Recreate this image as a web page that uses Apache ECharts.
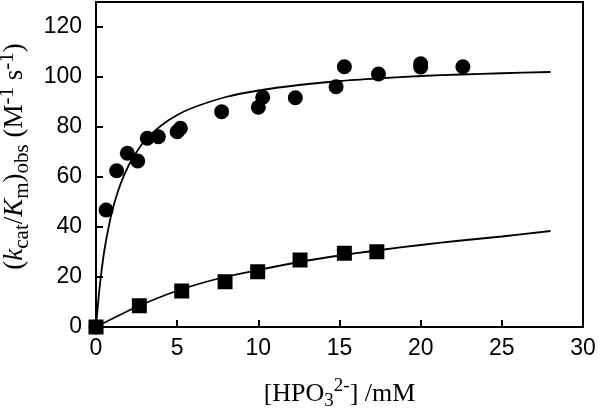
<!DOCTYPE html>
<html>
<head>
<meta charset="utf-8">
<script src="https://cdn.jsdelivr.net/npm/echarts@6/dist/echarts.min.js"></script>
<style>html,body{margin:0;padding:0;background:#fff}#c{width:600px;height:410px}</style>
</head>
<body>
<div id="c"></div>
<script>
// Measured data (circles and squares)
var circleX = [0, 0.62, 1.27, 1.93, 2.57, 3.16, 3.84, 5.0, 5.2, 7.74, 10.0, 10.27, 12.28, 14.79, 15.3, 17.4, 20.0, 20.0, 22.6];
var circleY = [0, 46.8, 62.5, 69.5, 66.4, 75.5, 76.1, 78.1, 79.5, 86.1, 87.9, 91.9, 91.7, 96.1, 104.1, 101.2, 105.3, 104.0, 104.1];
var squareX = [0, 2.67, 5.28, 7.95, 9.96, 12.57, 15.3, 17.3];
var squareY = [0, 8.5, 14.4, 18.1, 22.1, 26.8, 29.5, 30.1];
// Fitted curves
var fit1X = [0, 0.1, 0.25, 0.5, 0.75, 1, 1.5, 2, 2.5, 3, 4, 5, 6, 8, 10, 12.5, 15, 17.5, 20, 22.5, 25, 28];
var fit1Y = [0, 7.5, 17.5, 30, 39, 46.5, 57, 64.5, 70, 74.5, 80.5, 84.8, 87.8, 92, 94.6, 96.8, 98.4, 99.5, 100.4, 101, 101.5, 102];
var fit2X = [0, 2.5, 5, 7.5, 10, 12.5, 15, 17.5, 20, 22.5, 25, 28];
var fit2Y = [0, 8, 14.5, 19.3, 22.8, 26, 28.6, 30.8, 32.8, 34.6, 36.2, 38.4];
var xTicks = [0, 5, 10, 15, 20, 25, 30];
var yTicks = [0, 20, 40, 60, 80, 100, 120];

function pairs(xs, ys) { return xs.map(function (x, i) { return [x, ys[i]]; }); }

var chart = echarts.init(document.getElementById('c'), null, {renderer: 'canvas'});
var serif = '"Liberation Serif", "Times New Roman", serif';
var sans = '"Liberation Sans", Arial, sans-serif';
var xRich = {
  n: {fontFamily: serif, fontSize: 26, lineHeight: 34, color: '#000', verticalAlign: 'middle'},
  sub: {fontFamily: serif, fontSize: 19, lineHeight: 19, color: '#000', verticalAlign: 'bottom'},
  sup: {fontFamily: serif, fontSize: 19, lineHeight: 19, color: '#000', verticalAlign: 'top'}
};
var yRich = {
  n: {fontFamily: serif, fontSize: 27, lineHeight: 36, color: '#000', verticalAlign: 'middle'},
  i: {fontFamily: serif, fontSize: 27, lineHeight: 36, fontStyle: 'italic', color: '#000', verticalAlign: 'middle'},
  sub: {fontFamily: serif, fontSize: 21, lineHeight: 21, color: '#000', verticalAlign: 'bottom'},
  sup: {fontFamily: serif, fontSize: 21, lineHeight: 21, color: '#000', verticalAlign: 'top'}
};

chart.setOption({
  animation: false,
  backgroundColor: '#fff',
  grid: {left: 96, right: 17, top: 2, bottom: 83, show: true, borderColor: '#000', borderWidth: 2,
         backgroundColor: 'transparent', containLabel: false, outerBoundsMode: 'none'},
  xAxis: {
    type: 'value', min: xTicks[0], max: xTicks[xTicks.length - 1], interval: 5,
    axisLine: {lineStyle: {color: '#000', width: 2}},
    axisTick: {inside: true, length: 7, lineStyle: {color: '#000', width: 2}},
    splitLine: {show: false},
    axisLabel: {color: '#000', fontFamily: sans, fontSize: 23, margin: 10},
    name: '{n|[HPO}{sub|3}{sup|2-}{n|] /mM}',
    nameLocation: 'middle', nameGap: 50,
    nameTextStyle: {rich: xRich}
  },
  yAxis: {
    type: 'value', min: yTicks[0], max: 130, interval: 20,
    axisLine: {lineStyle: {color: '#000', width: 2}},
    axisTick: {inside: true, length: 7, lineStyle: {color: '#000', width: 2}},
    splitLine: {show: false},
    axisLabel: {color: '#000', fontFamily: sans, fontSize: 23, margin: 14, showMaxLabel: false},
    name: '{n|(}{i|k}{sub|cat}{n|/}{i|K}{sub|m}{n|)}{sub|obs}{n| (M}{sup|-1}{n| s}{sup|-1}{n|)}',
    nameLocation: 'middle', nameGap: 61, nameRotate: 90,
    nameTextStyle: {rich: yRich, padding: [0, 0, 0, 16]}
  },
  series: [
    {type: 'line', data: pairs(fit1X, fit1Y), smooth: 0.3, showSymbol: false, lineStyle: {color: '#000', width: 1.8}, z: 2},
    {type: 'line', data: pairs(fit2X, fit2Y), smooth: 0.3, showSymbol: false, lineStyle: {color: '#000', width: 1.8}, z: 2},
    {type: 'scatter', data: pairs(circleX, circleY), symbol: 'circle', symbolSize: 15, itemStyle: {color: '#000', opacity: 1}, z: 3},
    {type: 'scatter', data: pairs(squareX, squareY), symbol: 'rect', symbolSize: 15, itemStyle: {color: '#000', opacity: 1}, z: 4}
  ]
});
</script>
</body>
</html>
